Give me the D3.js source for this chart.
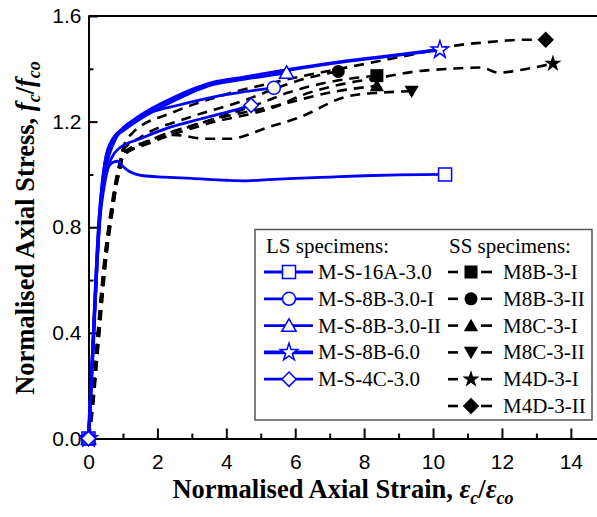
<!DOCTYPE html>
<html>
<head>
<meta charset="utf-8">
<script src="https://cdn.jsdelivr.net/npm/d3@7"></script>
<style>
body { margin: 0; background: #fff; }
svg text { fill: #000; }
</style>
</head>
<body>
<div id="chart"></div>
<script>
// ---- data (normalised strain, normalised stress) ----
const xTicks = [0, 2, 4, 6, 8, 10, 12, 14];
const yTicks = [0.0, 0.4, 0.8, 1.2, 1.6];

// LS specimens (blue, solid, open markers)
const lsNames = ["M-S-16A-3.0", "M-S-8B-3.0-I", "M-S-8B-3.0-II", "M-S-8B-6.0", "M-S-4C-3.0"];
const lsMarkers = ["square", "circle", "triangle", "star", "diamond"];
const ls16A = [[0,0],[0.13,0.34],[0.25,0.66],[0.33,0.84],[0.42,0.95],[0.55,1.02],[0.7,1.045],[0.85,1.05],[1.0,1.03],[1.2,1.01],[1.6,0.995],[2.2,0.99],[3,0.985],[4,0.978],[4.6,0.976],[5.2,0.98],[6,0.985],[7,0.99],[8,0.995],[9,0.998],[10.35,1.0]];
const ls8B30I = [[0,0],[0.12,0.34],[0.24,0.66],[0.32,0.84],[0.42,0.96],[0.55,1.05],[0.7,1.11],[0.9,1.16],[1.3,1.205],[1.8,1.235],[2.6,1.262],[3.9,1.3],[5.38,1.328]];
const ls8B30II = [[0,0],[0.12,0.34],[0.23,0.66],[0.31,0.84],[0.4,0.97],[0.5,1.06],[0.65,1.12],[0.8,1.145],[1.0,1.165],[1.5,1.21],[2.5,1.28],[3.6,1.34],[4.5,1.36],[5.75,1.385]];
const ls8B60 = [[0,0],[0.13,0.34],[0.24,0.66],[0.32,0.84],[0.41,0.97],[0.52,1.07],[0.65,1.12],[0.8,1.15],[1.0,1.172],[1.5,1.222],[2.5,1.292],[3.6,1.347],[4.5,1.367],[5.85,1.397],[7,1.42],[8.5,1.445],[10.2,1.472]];
const ls4C30 = [[0,0],[0.13,0.34],[0.25,0.66],[0.34,0.84],[0.45,0.95],[0.6,1.04],[0.75,1.08],[0.9,1.1],[1.5,1.135],[2.4,1.18],[3.25,1.21],[4.0,1.235],[4.72,1.262]];
const lsData = [ls16A, ls8B30I, ls8B30II, ls8B60, ls4C30];

// SS specimens (black, dashed, filled markers)
const ssNames = ["M8B-3-I", "M8B-3-II", "M8C-3-I", "M8C-3-II", "M4D-3-I", "M4D-3-II"];
const ssMarkers = ["square", "circle", "triangle", "triangleDown", "star", "diamond"];
const ssM8B3I = [[0,0],[0.08,0.12],[0.18,0.27],[0.28,0.42],[0.38,0.57],[0.48,0.7],[0.58,0.8],[0.68,0.89],[0.78,0.97],[0.88,1.03],[1.0,1.08],[1.8,1.13],[3.4,1.2],[5.0,1.27],[5.8,1.31],[7,1.35],[8.37,1.374]];
const ssM8B3II = [[0,0],[0.11,0.12],[0.21,0.27],[0.31,0.42],[0.41,0.57],[0.51,0.7],[0.61,0.8],[0.71,0.89],[0.81,0.97],[0.91,1.04],[1.0,1.09],[1.5,1.14],[2.95,1.217],[4.4,1.275],[5.8,1.343],[6.5,1.37],[7.25,1.39]];
const ssM8C3I = [[0,0],[0.13,0.12],[0.23,0.27],[0.33,0.42],[0.43,0.57],[0.53,0.7],[0.63,0.8],[0.73,0.89],[0.83,0.97],[0.93,1.03],[1.0,1.07],[1.5,1.11],[3.4,1.2],[5.5,1.262],[7,1.31],[8.37,1.336]];
const ssM8C3II = [[0,0],[0.09,0.12],[0.19,0.27],[0.29,0.42],[0.39,0.57],[0.49,0.7],[0.59,0.8],[0.69,0.88],[0.79,0.96],[0.89,1.03],[1.0,1.08],[1.3,1.1],[2.45,1.15],[3.4,1.135],[4.1,1.135],[5.2,1.178],[6.1,1.215],[7.5,1.295],[8.5,1.31],[9.38,1.315]];
const ssM4D3I = [[0,0],[0.12,0.12],[0.22,0.27],[0.32,0.42],[0.42,0.57],[0.52,0.7],[0.62,0.8],[0.72,0.89],[0.82,0.97],[0.92,1.02],[1.0,1.07],[1.8,1.12],[3.4,1.19],[5.5,1.26],[6.2,1.3],[7.4,1.343],[8.4,1.365],[9.5,1.39],[10.5,1.4],[11.4,1.405],[11.9,1.385],[12.5,1.395],[13.48,1.42]];
const ssM4D3II = [[0,0],[0.1,0.12],[0.2,0.27],[0.3,0.42],[0.4,0.57],[0.5,0.7],[0.6,0.8],[0.7,0.89],[0.8,0.97],[0.9,1.04],[1.0,1.1],[1.3,1.16],[2.45,1.235],[3.9,1.3],[5.6,1.355],[8,1.418],[9.9,1.468],[10.5,1.485],[11.5,1.5],[12.7,1.51],[13.27,1.51]];
const ssData = [ssM8B3I, ssM8B3II, ssM8C3I, ssM8C3II, ssM4D3I, ssM4D3II];

const W = 597, H = 517;
const blue = "#0000ff";

const svg = d3.select("#chart").append("svg")
    .attr("width", W)
    .attr("height", H);

const x = d3.scaleLinear().domain([0, 15]).range([88.5, 605.3]);
const y = d3.scaleLinear().domain([0, 1.6]).range([438.5, 16]);

// marker shapes, sized in px
function markerPath(type, s) {
    const r = s / 2;
    if (type === "square") return `M${-r},${-r}H${r}V${r}H${-r}Z`;
    if (type === "diamond") return `M0,${-r * 1.1}L${r * 1.1},0L0,${r * 1.1}L${-r * 1.1},0Z`;
    if (type === "circle") return d3.symbol().type(d3.symbolCircle).size(Math.PI * r * r)();
    if (type === "triangle") return `M0,${-r * 1.05}L${r * 1.1},${r * 0.85}L${-r * 1.1},${r * 0.85}Z`;
    if (type === "triangleDown") return `M0,${r * 1.05}L${r * 1.1},${-r * 0.85}L${-r * 1.1},${-r * 0.85}Z`;
    if (type === "star") return d3.symbol().type(d3.symbolStar).size(s * s * 0.55)();
}

const line = d3.line()
    .x(d => x(d[0]))
    .y(d => y(d[1]))
    .curve(d3.curveMonotoneX);

// axes
const gx = svg.append("g").attr("transform", `translate(0,${y(0)})`);
gx.call(d3.axisBottom(x).tickValues(xTicks).tickFormat(d3.format("d"))
    .tickSizeInner(-10).tickSizeOuter(0).tickPadding(16));
svg.append("g").attr("transform", `translate(0,${y(0)})`)
    .call(d3.axisBottom(x).tickValues(d3.range(1, 15, 2)).tickFormat("")
        .tickSizeInner(-5).tickSizeOuter(0))
    .select(".domain").remove();

const gy = svg.append("g").attr("transform", `translate(${x(0)},0)`);
gy.call(d3.axisLeft(y).tickValues(yTicks).tickFormat(d3.format(".1f"))
    .tickSizeInner(-9).tickSizeOuter(0).tickPadding(7));
svg.append("g").attr("transform", `translate(${x(0)},0)`)
    .call(d3.axisLeft(y).tickValues([0.2, 0.6, 1.0, 1.4]).tickFormat("")
        .tickSizeInner(-5).tickSizeOuter(0))
    .select(".domain").remove();

svg.selectAll(".domain").attr("stroke-width", 2);
svg.selectAll(".tick line").attr("stroke-width", 2);
svg.selectAll(".tick text")
    .style("font-family", "'Liberation Sans', Arial, sans-serif")
    .style("font-size", "21px");

// top / right frame
svg.append("line")
    .attr("x1", x(0)).attr("x2", x(15))
    .attr("y1", y(1.6)).attr("y2", y(1.6))
    .attr("stroke", "#000").attr("stroke-width", 2);
svg.append("line")
    .attr("x1", x(15)).attr("x2", x(15))
    .attr("y1", y(1.6)).attr("y2", y(0))
    .attr("stroke", "#000").attr("stroke-width", 2);

// SS curves
ssData.forEach((pts, i) => {
    svg.append("path")
        .datum(pts)
        .attr("fill", "none")
        .attr("stroke", "#000")
        .attr("stroke-width", 2.6)
        .attr("stroke-dasharray", "10,7")
        .attr("d", line);
});

// LS curves
lsData.forEach((pts, i) => {
    svg.append("path")
        .datum(pts)
        .attr("fill", "none")
        .attr("stroke", blue)
        .attr("stroke-width", i === 3 ? 3.6 : 2.8)
        .attr("stroke-linejoin", "round")
        .attr("d", line);
});

// end markers (first and last point)
ssData.forEach((pts, i) => {
    [pts[0], pts[pts.length - 1]].forEach(p => {
        svg.append("path")
            .attr("d", markerPath(ssMarkers[i], ssMarkers[i] === "diamond" ? 15 : 13))
            .attr("transform", `translate(${x(p[0])},${y(p[1])})`)
            .attr("fill", "#000");
    });
});
lsData.forEach((pts, i) => {
    [pts[0], pts[pts.length - 1]].forEach(p => {
        svg.append("path")
            .attr("d", markerPath(lsMarkers[i], 13))
            .attr("transform", `translate(${x(p[0])},${y(p[1])})`)
            .attr("fill", "#fff")
            .attr("stroke", blue)
            .attr("stroke-width", 1.5);
    });
});

// axis titles
const serif = "'Liberation Serif', 'Times New Roman', serif";
const xt = svg.append("text")
    .attr("x", 343).attr("y", 498)
    .attr("text-anchor", "middle")
    .style("font-family", serif).style("font-size", "26.5px").style("font-weight", "bold");
xt.append("tspan").text("Normalised Axial Strain, ");
xt.append("tspan").style("font-style", "italic").text("ε");
xt.append("tspan").style("font-size", "18px").attr("dy", 6).style("font-style", "italic").text("c");
xt.append("tspan").attr("dy", -6).text("/");
xt.append("tspan").style("font-style", "italic").text("ε");
xt.append("tspan").style("font-size", "18px").attr("dy", 6).style("font-style", "italic").text("co");

const yt = svg.append("text")
    .attr("transform", "translate(34,228) rotate(-90)")
    .attr("text-anchor", "middle")
    .style("font-family", serif).style("font-size", "26.5px").style("font-weight", "bold");
yt.append("tspan").text("Normalised Axial Stress, ");
yt.append("tspan").style("font-style", "italic").text("f");
yt.append("tspan").style("font-size", "18px").attr("dy", 6).style("font-style", "italic").text("c");
yt.append("tspan").attr("dy", -6).text("/");
yt.append("tspan").style("font-style", "italic").text("f");
yt.append("tspan").style("font-size", "18px").attr("dy", 6).style("font-style", "italic").text("co");

// legend
const lg = svg.append("g");
lg.append("rect")
    .attr("x", 255).attr("y", 229.5)
    .attr("width", 337).attr("height", 190.5)
    .attr("fill", "#fff").attr("stroke", "#555").attr("stroke-width", 1.5);
lg.append("text").attr("x", 266).attr("y", 253)
    .style("font-family", serif).style("font-size", "21px").text("LS specimens:");
lg.append("text").attr("x", 449).attr("y", 253)
    .style("font-family", serif).style("font-size", "21px").text("SS specimens:");

const rowY = i => 272 + i * 26.8;
lsNames.forEach((name, i) => {
    const cy = rowY(i);
    lg.append("line").attr("x1", 264).attr("x2", 313).attr("y1", cy).attr("y2", cy)
        .attr("stroke", blue).attr("stroke-width", i === 3 ? 3.6 : 2.8);
    lg.append("path").attr("d", markerPath(lsMarkers[i], 13))
        .attr("transform", `translate(289,${cy})`)
        .attr("fill", "#fff").attr("stroke", blue).attr("stroke-width", 1.5);
    lg.append("text").attr("x", 318).attr("y", cy + 7)
        .style("font-family", serif).style("font-size", "21px").text(name);
});
ssNames.forEach((name, i) => {
    const cy = rowY(i);
    lg.append("line").attr("x1", 448).attr("x2", 458).attr("y1", cy).attr("y2", cy)
        .attr("stroke", "#000").attr("stroke-width", 2.6);
    lg.append("line").attr("x1", 481).attr("x2", 492).attr("y1", cy).attr("y2", cy)
        .attr("stroke", "#000").attr("stroke-width", 2.6);
    lg.append("path").attr("d", markerPath(ssMarkers[i], ssMarkers[i] === "diamond" ? 15 : 13))
        .attr("transform", `translate(471,${cy})`)
        .attr("fill", "#000");
    lg.append("text").attr("x", 503).attr("y", cy + 7)
        .style("font-family", serif).style("font-size", "21px").text(name);
});
</script>
</body>
</html>
